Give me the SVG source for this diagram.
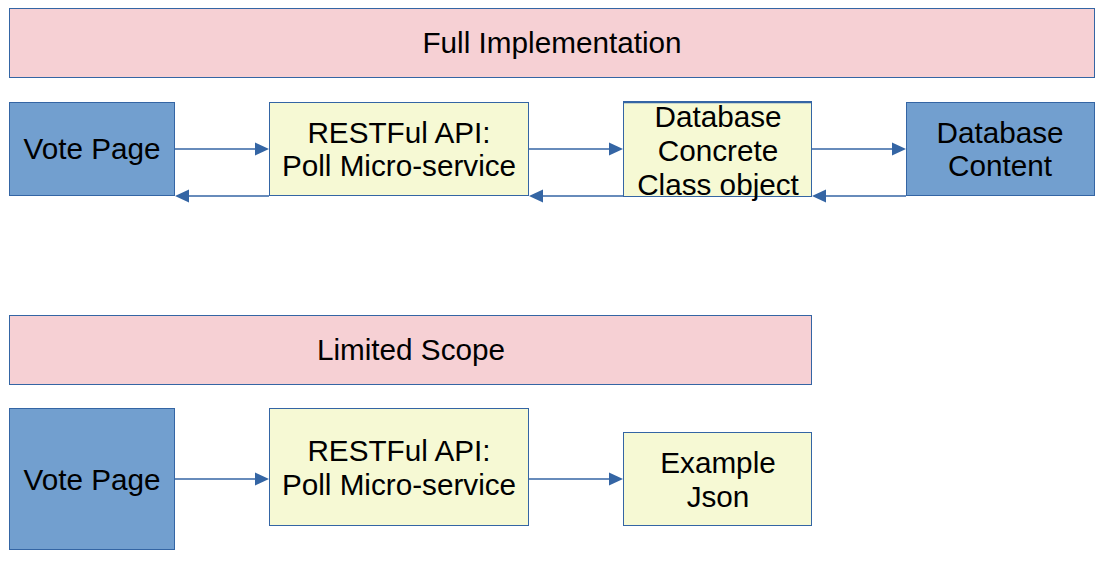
<svg xmlns="http://www.w3.org/2000/svg" width="1109" height="570" viewBox="0 0 1109 570">
<defs>
<style>
.banner{fill:#f6d0d4;stroke:#3465a4;stroke-width:1}
.blue{fill:#729fcf;stroke:#3465a4;stroke-width:1}
.yel{fill:#f6f9d4;stroke:#3465a4;stroke-width:1}
.t{font-family:"Liberation Sans",Arial,sans-serif;font-size:29.7px;fill:#000;text-anchor:middle}
.c{stroke:#3465a4;stroke-width:1.3;fill:none}
.h{fill:#3465a4}
</style>
</defs>
<g id="banner-full"><rect class="banner" x="9.5" y="8.5" width="1085" height="69"/><text class="t" x="552" y="53">Full Implementation</text></g>
<g id="vote-page-1"><rect class="blue" x="9.5" y="102.5" width="165" height="93"/><text class="t" x="92" y="159">Vote Page</text></g>
<g id="rest-api-1"><rect class="yel" x="269.5" y="102.5" width="259" height="93"/><text class="t" x="399" y="143">RESTFul API:</text><text class="t" x="399" y="176">Poll Micro-service</text></g>
<g id="db-concrete"><rect class="yel" x="623.5" y="101.5" width="188" height="95"/><line class="c" x1="623.5" y1="102.5" x2="811.5" y2="102.5"/><text class="t" x="718" y="127">Database</text><text class="t" x="718" y="161">Concrete</text><text class="t" x="718" y="195">Class object</text></g>
<g id="db-content"><rect class="blue" x="906.5" y="102.5" width="188" height="93"/><text class="t" x="1000" y="143">Database</text><text class="t" x="1000" y="176">Content</text></g>
<g id="banner-limited"><rect class="banner" x="9.5" y="315.5" width="802" height="69"/><text class="t" x="411" y="360">Limited Scope</text></g>
<g id="vote-page-2"><rect class="blue" x="9.5" y="408.5" width="165" height="141"/><text class="t" x="92" y="490">Vote Page</text></g>
<g id="rest-api-2"><rect class="yel" x="269.5" y="408.5" width="259" height="117"/><text class="t" x="399" y="461">RESTFul API:</text><text class="t" x="399" y="495">Poll Micro-service</text></g>
<g id="example-json"><rect class="yel" x="623.5" y="432.5" width="188" height="93"/><text class="t" x="718" y="473">Example</text><text class="t" x="718" y="507">Json</text></g>
<g id="connectors">
<line class="c" x1="175" y1="149" x2="256" y2="149"/><polygon class="h" points="269,149 255,142.5 255,155.5"/>
<line class="c" x1="529" y1="149" x2="610" y2="149"/><polygon class="h" points="623,149 609,142.5 609,155.5"/>
<line class="c" x1="812" y1="149" x2="893" y2="149"/><polygon class="h" points="906,149 892,142.5 892,155.5"/>
<line class="c" x1="269" y1="196" x2="188" y2="196"/><polygon class="h" points="175,196 189,189.5 189,202.5"/>
<line class="c" x1="623" y1="196" x2="542" y2="196"/><polygon class="h" points="529,196 543,189.5 543,202.5"/>
<line class="c" x1="906" y1="196" x2="825" y2="196"/><polygon class="h" points="812,196 826,189.5 826,202.5"/>
<line class="c" x1="175" y1="479" x2="256" y2="479"/><polygon class="h" points="269,479 255,472.5 255,485.5"/>
<line class="c" x1="529" y1="479" x2="610" y2="479"/><polygon class="h" points="623,479 609,472.5 609,485.5"/>
</g>
</svg>
